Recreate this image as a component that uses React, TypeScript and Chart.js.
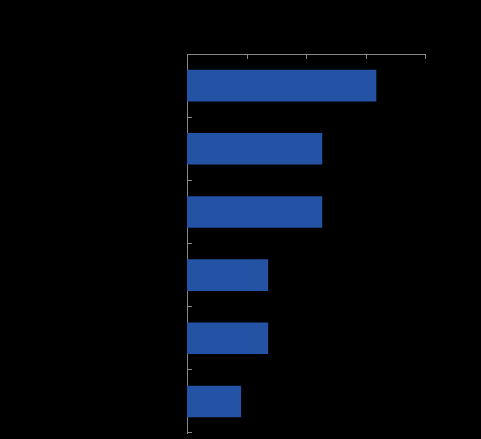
import React, { useEffect, useRef } from "react";
import { Chart, registerables } from "chart.js";

Chart.register(...registerables);

const categories = ["Category A", "Category B", "Category C", "Category D", "Category E", "Category F"];
const values = [7, 5, 5, 3, 3, 2];
const xMin = 0;
const xMax = 8.8;
const xStep = 2.2;

const AXIS_COLOR = "#888888";
const BAR_COLOR = "#2452a4";

const inwardTicks = {
  id: "inwardTicks",
  afterDraw(chart: any) {
    const { ctx, chartArea, scales } = chart;
    const x = scales.x;
    const y = scales.y;
    const len = 5;
    ctx.save();
    ctx.strokeStyle = AXIS_COLOR;
    ctx.lineWidth = 1;
    ctx.beginPath();
    x.ticks.forEach((_t: any, i: number) => {
      const px = Math.round(x.getPixelForTick(i)) + 0.5;
      ctx.moveTo(px, chartArea.top);
      ctx.lineTo(px, chartArea.top + len);
    });
    const n = categories.length;
    const bounds: number[] = [];
    for (let i = 0; i < n - 1; i++) {
      bounds.push((y.getPixelForValue(i) + y.getPixelForValue(i + 1)) / 2);
    }
    bounds.push(chartArea.bottom - 1);
    bounds.forEach((b) => {
      const py = Math.floor(b) + 0.5;
      ctx.moveTo(chartArea.left, py);
      ctx.lineTo(chartArea.left + len, py);
    });
    ctx.stroke();
    ctx.restore();
  },
};

export default function App() {
  const ref = useRef<HTMLCanvasElement | null>(null);
  useEffect(() => {
    if (!ref.current) return;
    const chart = new Chart(ref.current, {
      type: "bar",
      data: {
        labels: categories,
        datasets: [
          {
            data: values,
            backgroundColor: BAR_COLOR,
            borderWidth: 0,
            barPercentage: 0.5,
            categoryPercentage: 1,
          },
        ],
      },
      options: {
        indexAxis: "y",
        animation: false,
        responsive: true,
        maintainAspectRatio: false,
        layout: { padding: { left: 0, top: 0, right: 56, bottom: 6 } },
        plugins: { legend: { display: false }, tooltip: { enabled: false } },
        scales: {
          x: {
            position: "top",
            min: xMin,
            max: xMax,
            grid: { display: false },
            border: { display: true, color: AXIS_COLOR, width: 1 },
            ticks: { stepSize: xStep, display: false },
            afterFit(scale: any) {
              scale.height = 54;
            },
          },
          y: {
            grid: { display: false },
            border: { display: true, color: AXIS_COLOR, width: 1 },
            ticks: { display: false },
            afterFit(scale: any) {
              scale.width = 187;
            },
          },
        },
      },
      plugins: [inwardTicks],
    });
    return () => chart.destroy();
  }, []);
  return (
    <div style={{ position: "fixed", left: 0, top: 0, width: 481, height: 439, background: "#000" }}>
      <div style={{ position: "relative", width: 481, height: 439 }}>
        <canvas ref={ref} />
      </div>
    </div>
  );
}
